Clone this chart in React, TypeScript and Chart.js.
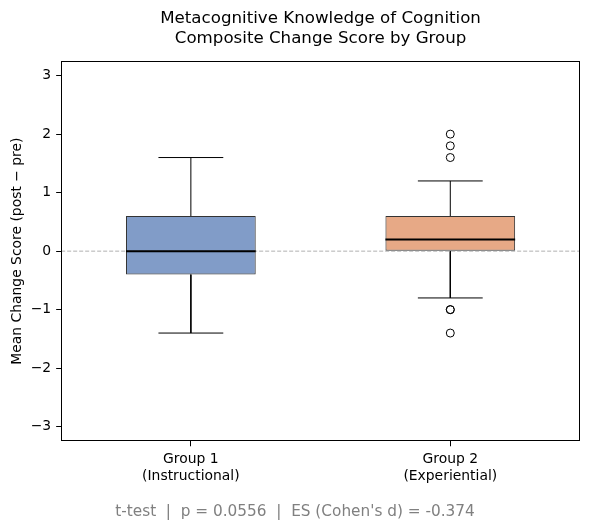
import React, { useEffect, useRef } from 'react';
import { Chart, registerables } from 'chart.js';

Chart.register(...registerables);

// Group positions on the x axis and their two-line labels
const GROUPS = [0, 1];
const GROUP_LABELS = [
  ['Group 1', '(Instructional)'],
  ['Group 2', '(Experiential)'],
];

// Box-plot summary per group
const WHISKER_LOW = [-1.4, -0.8];
const Q1 = [-0.4, 0.0];
const MEDIAN = [0.0, 0.2];
const Q3 = [0.6, 0.6];
const WHISKER_HIGH = [1.6, 1.2];
const OUTLIERS = [[], [2.0, 1.8, 1.6, -1.0, -1.0, -1.4]];

// Axis ticks and ranges
const Y_TICKS = [-3, -2, -1, 0, 1, 2, 3];
const Y_MIN = -3.25;
const Y_MAX = 3.25;
const X_MIN = -0.5;
const X_MAX = 1.5;

// Test statistics shown under the chart
const P_VALUE = 0.0556;
const COHENS_D = -0.374;

const BOX_WIDTH = 0.5;
const CAP_WIDTH = 0.25;
const BOX_COLORS = ['rgba(76,114,176,0.7)', 'rgba(221,132,82,0.7)'];
const FONT = 'DejaVu Sans';

const fmt = (v: number) => (v < 0 ? '\u2212' + Math.abs(v) : String(v));

type Pt = { x: number; y: number | null };

function whiskerSegments(): Pt[] {
  const pts: Pt[] = [];
  GROUPS.forEach((g, i) => {
    const h = CAP_WIDTH / 2;
    pts.push({ x: g, y: Q1[i] }, { x: g, y: WHISKER_LOW[i] }, { x: g, y: null });
    pts.push({ x: g, y: Q3[i] }, { x: g, y: WHISKER_HIGH[i] }, { x: g, y: null });
    pts.push({ x: g - h, y: WHISKER_LOW[i] }, { x: g + h, y: WHISKER_LOW[i] }, { x: g, y: null });
    pts.push({ x: g - h, y: WHISKER_HIGH[i] }, { x: g + h, y: WHISKER_HIGH[i] }, { x: g, y: null });
  });
  return pts;
}

function medianSegments(): Pt[] {
  const pts: Pt[] = [];
  GROUPS.forEach((g, i) => {
    const h = BOX_WIDTH / 2;
    pts.push({ x: g - h, y: MEDIAN[i] }, { x: g + h, y: MEDIAN[i] }, { x: g, y: null });
  });
  return pts;
}

function outlierPoints(): Pt[] {
  const pts: Pt[] = [];
  GROUPS.forEach((g, i) => OUTLIERS[i].forEach((v) => pts.push({ x: g, y: v })));
  return pts;
}

// Full rectangular frame around the plotting area
const framePlugin = {
  id: 'frame',
  afterDraw(chart: any) {
    const { ctx, chartArea: a } = chart;
    ctx.save();
    ctx.strokeStyle = '#000';
    ctx.lineWidth = 1;
    const l = Math.round(a.left) + 0.5;
    const t = Math.round(a.top) + 0.5;
    const r = Math.round(a.right) - 0.5;
    const b = Math.round(a.bottom) - 0.5;
    ctx.strokeRect(l, t, r - l, b - t);
    ctx.restore();
  },
};

export default function App() {
  const ref = useRef<HTMLCanvasElement>(null);

  useEffect(() => {
    if (!ref.current) return;
    const chart = new Chart(ref.current, {
      type: 'bar',
      data: {
        datasets: [
          {
            type: 'scatter',
            data: outlierPoints(),
            pointStyle: 'circle',
            pointRadius: 4,
            pointBorderWidth: 1,
            pointBorderColor: '#000',
            pointBackgroundColor: 'rgba(0,0,0,0)',
            order: 0,
          } as any,
          {
            type: 'line',
            data: medianSegments(),
            borderColor: '#000',
            borderWidth: 2,
            pointRadius: 0,
            spanGaps: false,
            fill: false,
            order: 1,
          } as any,
          {
            type: 'line',
            data: [
              { x: X_MIN, y: 0 },
              { x: X_MAX, y: 0 },
            ],
            borderColor: 'rgba(150,150,150,0.75)',
            borderWidth: 1,
            borderDash: [4, 2],
            pointRadius: 0,
            fill: false,
            order: 2,
          } as any,
          {
            type: 'bar',
            data: GROUPS.map((g, i) => ({ x: g, y: [Q1[i], Q3[i]] })),
            backgroundColor: BOX_COLORS,
            borderColor: '#333333',
            borderWidth: 1,
            borderSkipped: false,
            barPercentage: BOX_WIDTH,
            categoryPercentage: 1,
            order: 3,
          } as any,
          {
            type: 'line',
            data: whiskerSegments(),
            borderColor: '#000',
            borderWidth: 1,
            pointRadius: 0,
            spanGaps: false,
            fill: false,
            order: 4,
          } as any,
        ],
      },
      options: {
        responsive: false,
        animation: false,
        events: [],
        layout: { padding: 0 },
        plugins: {
          legend: { display: false },
          tooltip: { enabled: false },
          title: {
            display: true,
            text: ['Metacognitive Knowledge of Cognition', 'Composite Change Score by Group'],
            color: '#000',
            font: { family: FONT, size: 16.67, weight: 'normal', lineHeight: 1.2 },
            padding: { top: 9, bottom: 12 },
            fullSize: false,
          },
          subtitle: {
            display: true,
            position: 'bottom',
            text: `t-test  |  p = ${P_VALUE}  |  ES (Cohen's d) = ${COHENS_D}`,
            color: '#808080',
            font: { family: FONT, size: 15.3, weight: 'normal', lineHeight: 1.2 },
            padding: { top: 13, bottom: 10 },
          },
        },
        scales: {
          x: {
            type: 'linear',
            min: X_MIN,
            max: X_MAX,
            offset: false,
            afterBuildTicks: (s: any) => {
              s.ticks = GROUPS.map((g) => ({ value: g }));
            },
            ticks: {
              color: '#000',
              font: { family: FONT, size: 13.9, lineHeight: 1.2 },
              padding: 5,
              maxRotation: 0,
              autoSkip: false,
              callback: (v: any) => {
                const i = GROUPS.indexOf(Number(v));
                return i >= 0 ? GROUP_LABELS[i] : '';
              },
            },
            grid: { display: true, offset: false, drawOnChartArea: false, drawTicks: true, tickLength: 5, color: '#000' },
            border: { display: false },
          },
          y: {
            type: 'linear',
            min: Y_MIN,
            max: Y_MAX,
            afterBuildTicks: (s: any) => {
              s.ticks = Y_TICKS.map((v) => ({ value: v }));
            },
            ticks: {
              color: '#000',
              font: { family: FONT, size: 13.9 },
              padding: 5,
              callback: (v: any) => fmt(Number(v)),
            },
            grid: { display: true, drawOnChartArea: false, drawTicks: true, tickLength: 5, color: '#000' },
            border: { display: false },
            title: {
              display: true,
              text: 'Mean Change Score (post \u2212 pre)',
              color: '#000',
              font: { family: FONT, size: 13.9, lineHeight: 1.2 },
              padding: { top: 9, bottom: 0 },
            },
          },
          // right-hand margin strip
          yRight: {
            type: 'linear',
            position: 'right',
            display: true,
            ticks: { display: false },
            grid: { display: false },
            border: { display: false },
            afterFit: (s: any) => {
              s.width = 10;
            },
          },
        },
      },
      plugins: [framePlugin],
    } as any);
    return () => chart.destroy();
  }, []);

  return (
    <div style={{ position: 'absolute', left: 0, top: 0, width: 590, height: 531, background: '#fff' }}>
      <canvas ref={ref} width={590} height={531} style={{ display: 'block' }} />
    </div>
  );
}
